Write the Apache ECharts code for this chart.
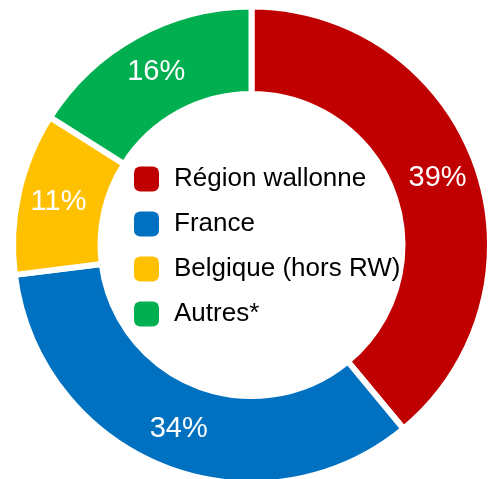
<!DOCTYPE html>
<html>
<head>
<meta charset="utf-8">
<script src="https://cdn.jsdelivr.net/npm/echarts@6/dist/echarts.min.js"></script>
<style>
html,body{margin:0;padding:0;background:#fff;}
#chart{width:495px;height:479px;}
</style>
</head>
<body>
<div id="chart"></div>
<script>
const categories = ["Région wallonne", "France", "Belgique (hors RW)", "Autres*"];
const values = [39, 34, 11, 16];
const colors = ["#C00000", "#0070C0", "#FFC000", "#00B050"];

const chart = echarts.init(document.getElementById('chart'), null, {renderer: 'canvas'});
chart.setOption({
  animation: false,
  backgroundColor: '#ffffff',
  color: colors,
  legend: {
    orient: 'vertical',
    left: 129,
    top: 161,
    itemWidth: 25,
    itemHeight: 25,
    itemGap: 19,
    icon: 'roundRect',
    selectedMode: false,
    data: categories,
    itemStyle: { borderWidth: 0 },
    textStyle: {
      fontFamily: 'Liberation Sans',
      fontSize: 26,
      lineHeight: 25,
      color: '#000000',
      padding: [0, 0, 0, 10]
    }
  },
  series: [{
    type: 'pie',
    center: [251.5, 245],
    radius: [151, 238.5],
    startAngle: 90,
    clockwise: true,
    avoidLabelOverlap: false,
    itemStyle: { borderColor: '#ffffff', borderWidth: 6 },
    label: {
      show: true,
      position: 'inside',
      formatter: '{c}%',
      color: '#ffffff',
      fontFamily: 'Liberation Sans',
      fontSize: 29
    },
    labelLine: { show: false },
    emphasis: { disabled: true },
    data: categories.map((n, i) => ({ name: n, value: values[i] }))
  }]
});
</script>
</body>
</html>
